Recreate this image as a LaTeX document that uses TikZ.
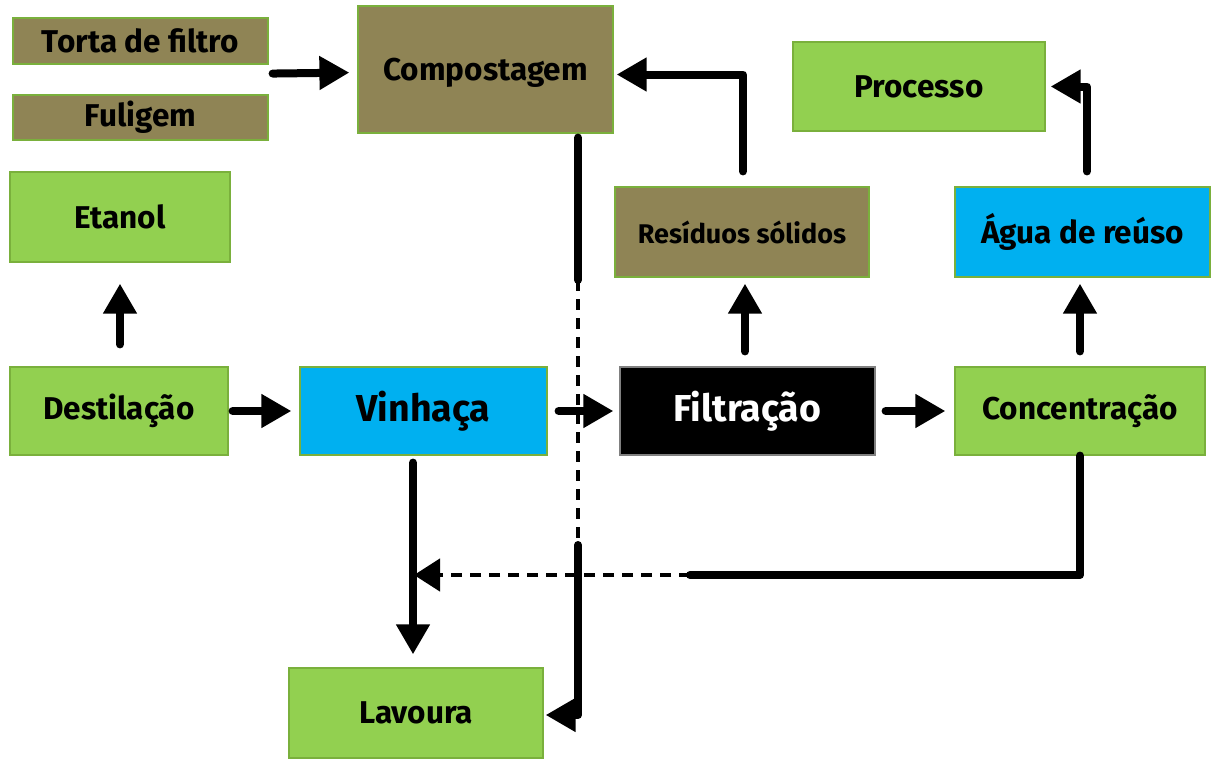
\documentclass[tikz,border=0pt]{standalone}
\usepackage{fontspec}
\setmainfont{Fira Sans}
\usetikzlibrary{arrows.meta}
\definecolor{olive}{HTML}{8F8455}
\definecolor{leaf}{HTML}{92D050}
\definecolor{sky}{HTML}{00B0F0}
\definecolor{edge}{HTML}{7AB03C}
\begin{document}
\begin{tikzpicture}[x=1pt,y=-1pt,
  box/.style={draw=edge, line width=1.2pt, inner sep=0pt, align=center,
    font=\bfseries\fontsize{31.5}{36}\selectfont},
  brown/.style={box, fill=olive},
  green/.style={box, fill=leaf},
  blue/.style={box, fill=sky},
  dark/.style={box, fill=black, draw=gray, text=white},
  big/.style={font=\bfseries\fontsize{37.5}{42}\selectfont},
  small/.style={font=\bfseries\fontsize{27}{31}\selectfont},
  wire/.style={line width=8pt, line cap=round, line join=round},
  flow/.style={wire, -{Triangle[length=30pt,width=32pt]}},
  dashline/.style={line width=4.5pt, dash pattern=on 11pt off 8pt},
  dashflow/.style={dashline, -{Triangle[length=26pt,width=32pt]}}]
\useasboundingbox (0,0) rectangle (1213,758);

% boxes
\node[brown, minimum width=255pt, minimum height=46pt] (torta) at (140.5,41) {Torta de filtro};
\node[brown, minimum width=255pt, minimum height=45pt] (fuligem) at (140.5,117.5) {Fuligem};
\node[brown, minimum width=255pt, minimum height=127pt] (compost) at (485.5,69.5) {};
\node at ([yshift=-3pt]compost.center) [font=\bfseries\fontsize{31.5}{36}\selectfont] (compostlabel) {Compostagem};
\node[green, minimum width=220pt, minimum height=90pt] (etanol) at (120,217) {Etanol};
\node[green, minimum width=218pt, minimum height=88pt] (destil) at (119,411) {Destilação};
\node[blue, big, minimum width=247pt, minimum height=88pt] (vinhaca) at (423.5,411) {Vinhaça};
\node[dark, big, minimum width=255pt, minimum height=88pt] (filtra) at (747.5,411) {Filtração};
\node[green, minimum width=250pt, minimum height=88pt] (concen) at (1080,411) {Concentração};
\node[brown, small, minimum width=254pt, minimum height=90pt] (residuo) at (742,232) {Resíduos sólidos};
\node[blue, minimum width=255pt, minimum height=90pt] (agua) at (1082.5,232) {Água de reúso};
\node[green, minimum width=252pt, minimum height=89pt] (processo) at (919,86.5) {Processo};
\node[green, minimum width=254pt, minimum height=90pt] (lavoura) at (416,713) {Lavoura};

% junction points of the return lines
\coordinate (csolid) at (578,280);
\coordinate (cdash) at (578,545);
\coordinate (split) at (690,575);
\coordinate (merge) at (413,575);

% main line
\draw[flow, shorten <=4pt, shorten >=8pt] (destil.east) -- (vinhaca.west);
\draw[flow, shorten <=11pt, shorten >=6pt] (vinhaca.east) -- (filtra.west);
\draw[flow, shorten <=10pt, shorten >=9pt] (filtra.east) -- (concen.west);

% upward branches
\draw[flow, shorten <=22pt, shorten >=21pt] ([xshift=1pt]destil.north) -- (etanol.south);
\draw[flow, shorten <=15pt, shorten >=6pt] ([xshift=-2.5pt]filtra.north) -- ([xshift=-2.5pt]filtra.north |- residuo.south);
\draw[flow, shorten <=15pt, shorten >=6pt] (concen.north) -- (concen.north |- agua.south);
\draw[flow, shorten <=15pt, shorten >=5pt] ([xshift=4.5pt]agua.north) |- (processo.east);
\draw[flow, shorten <=15pt, shorten >=3pt] ([xshift=1pt]residuo.north) |- ([yshift=-5pt]compost.east);
\draw[flow, shorten <=4pt, shorten >=8pt] ([yshift=-9pt]torta.south east) -- ([yshift=-3pt]compost.west);

% to the field
\draw[flow, shorten <=7pt, shorten >=13pt] ([xshift=-10.5pt]vinhaca.south) -- ([xshift=-10.5pt]vinhaca.south |- lavoura.north);
\draw[wire] ([xshift=92.5pt]compost.south) ++(0,4) -- (csolid);
\draw[dashline] (csolid) -- (cdash);
\draw[flow, shorten >=2pt] (cdash) |- ([yshift=-2pt]lavoura.east);

% return from concentration
\draw[wire] (concen.south) |- (split);
\draw[dashflow, shorten >=1pt] (split) -- (merge);
\end{tikzpicture}
\end{document}
